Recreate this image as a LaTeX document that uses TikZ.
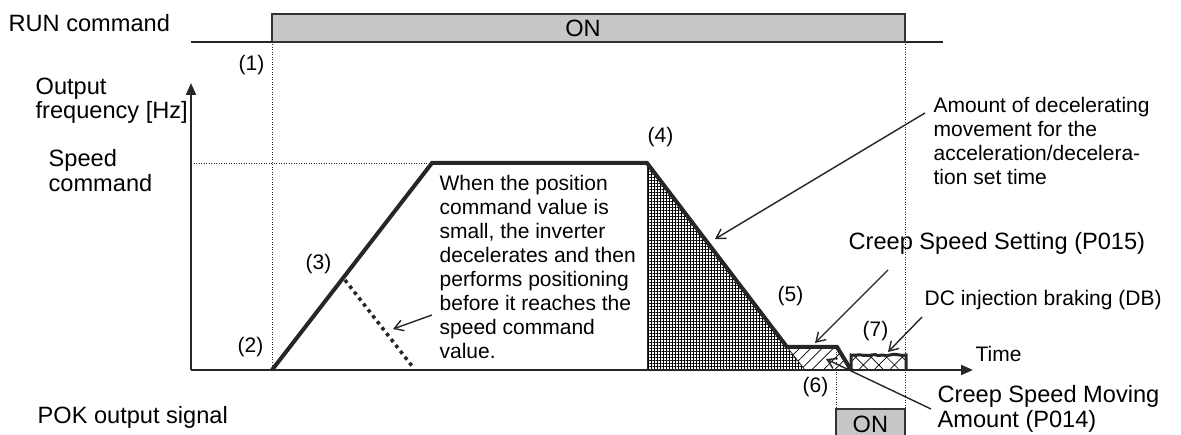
\documentclass[tikz,border=0pt]{standalone}
\usepackage{fontspec}
\setmainfont{Liberation Sans}
\usetikzlibrary{arrows.meta,patterns.meta,decorations.pathmorphing}

\begin{document}
\begin{tikzpicture}[x=1pt, y=-1pt, line width=1.3pt, black!85,
  txt/.style={inner sep=0pt, black, font=\fontsize{23.6}{24.5}\selectfont},
  petit/.style={font=\fontsize{21}{24}\selectfont},
  lbl/.style={txt, anchor=base west},
  bloc/.style={txt, anchor=north west, align=left},
  fleche/.style={line width=1.4pt, -{Straight Barb[length=9pt,width=11pt]}},
  axe/.style={line width=2pt, -{Triangle[length=12pt,width=10pt]}},
  signal/.style={draw=black!80, line width=2pt, fill=black!22},
  vitesse/.style={line width=4pt, line join=miter},
  pointille/.style={line width=0.9pt, dash pattern=on 1pt off 1.5pt}]
\useasboundingbox (0,0) rectangle (1181,435);
\clip (0,0) rectangle (1181,435);
% Signal RUN
\node[lbl] (run) at (8,32) {RUN command};
\coordinate (r0) at (191,42);
\coordinate (r1) at (272,42);
\coordinate (r2) at (905,42);
\coordinate (r3) at (943,42);
\draw[signal] (r1) rectangle (905,14);
\draw[line width=2pt] (r0) -- (r1) (r2) -- (r3);
\node[txt] (on1) at (583,28) {ON};
\node[lbl, petit] (n1) at (238,71) {(1)};
% Axes
\coordinate (o) at (191,370);
\coordinate (ytip) at (191,83);
\coordinate (xtip) at (973,370);
\node[bloc] (freq) at (35,77) {Output\\frequency [Hz]};
\node[bloc] (cmd) at (48,149) {Speed\\command};
\node[lbl, petit] (time) at (975,362) {Time};
% Pointillés
\draw[pointille] (r1) -- (272,370);
\draw[pointille] (r2) -- (905,409);
\draw[pointille] (836,347) -- (836,409);
\draw[pointille] (191,163) -- (432,163);
% Zone de décélération
\fill[pattern={Hatch[angle=0,distance=3pt,line width=0.85pt]}] (647,163) -- (805,370) -- (647,370) -- cycle;
\draw[line width=0.8pt] (647,163) -- (647,370);
% Zone de vitesse lente
\fill[pattern={Lines[angle=45,distance=8pt,line width=0.7pt]}] (787,347) -- (837,347) -- (851,370) -- (805,370) -- cycle;
\draw[line width=0.8pt] (787,347) -- (805,370);
% Freinage DC
\fill[pattern={Hatch[angle=45,distance=11pt,line width=0.7pt]}] (851,355) rectangle (906,370);
\draw[line width=3pt] (851,370) -- (851,355)
  decorate[decoration={random steps,segment length=3pt,amplitude=0.8pt}]{-- (906,355)} -- (906,370);
\draw[axe] (o) -- (ytip);
\draw[axe] (o) -- (xtip);
% Profil de vitesse
\draw[vitesse] (272,370) -- (432,163) -- (647,163) -- (787,347) -- (837,347) -- (851,370);
\draw[line width=3.5pt, dash pattern=on 3.5pt off 4pt] (345,280) -- (412,366);
% Repères
\node[lbl, petit] (n2) at (237,353) {(2)};
\node[lbl, petit] (n3) at (305,270) {(3)};
\node[lbl, petit] (n4) at (647,143) {(4)};
\node[lbl, petit] (n5) at (777,302) {(5)};
\node[lbl, petit] (n6) at (802,393) {(6)};
\node[lbl, petit] (n7) at (862,337) {(7)};
% Textes
\node[bloc, petit] (quand) at (439,174.7) {When the position\\command value is\\small, the inverter\\decelerates and then\\performs positioning\\before it reaches the\\speed command\\value.};
\node[bloc, petit] (amount) at (933,96.7) {Amount of decelerating\\movement for the\\acceleration/decelera-\\tion set time};
\node[lbl] (creep) at (848,250) {Creep Speed Setting (P015)};
\node[lbl, petit] (dcb) at (924,306) {DC injection braking (DB)};
\node[bloc] (moving) at (937,385) {Creep Speed Moving\\Amount (P014)};
% Flèches
\coordinate (a1) at (432,315);
\coordinate (t1) at (393,329);
\coordinate (a2) at (925,113);
\coordinate (t2) at (715,239);
\coordinate (a3) at (888,270);
\coordinate (t3) at (815,343);
\coordinate (a4) at (922,317);
\coordinate (t4) at (888,352);
\coordinate (a5) at (931,409);
\coordinate (t5) at (826,359);
\draw[fleche] (a1) -- (t1);
\draw[fleche] (a2) -- (t2);
\draw[fleche] (a3) -- (t3);
\draw[fleche] (a4) -- (t4);
\draw[fleche] (a5) -- (t5);
% Signal POK
\node[lbl] (pok) at (37,424) {POK output signal};
\draw[signal] (836,409) rectangle (905,445);
\node[lbl] (on2) at (852,432) {ON};
\end{tikzpicture}
\end{document}
